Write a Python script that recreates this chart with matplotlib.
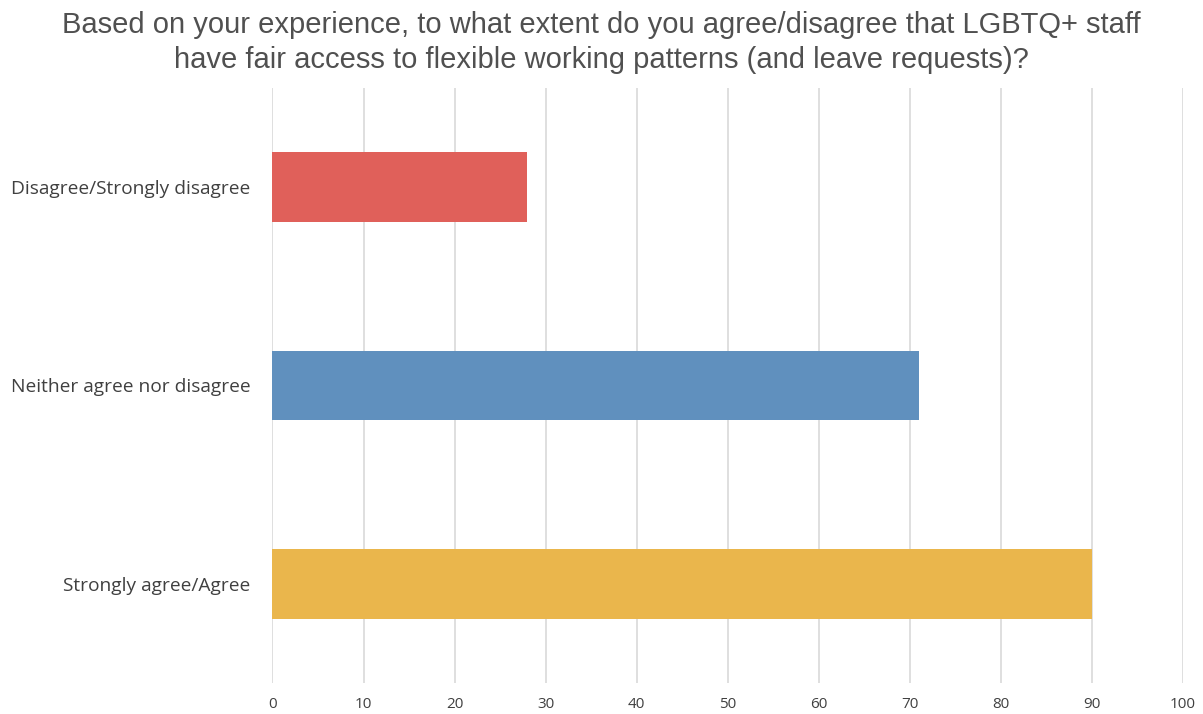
import matplotlib
matplotlib.use("Agg")
import matplotlib.pyplot as plt

# ── Data ──────────────────────────────────────────────────────────────────────
categories = ["Disagree/Strongly disagree", "Neither agree nor disagree", "Strongly agree/Agree"]
values     = [28, 71, 90]
colors     = ["#E0605A", "#6090BE", "#EAB64C"]
x_ticks    = list(range(0, 101, 10))

TITLE = ("Based on your experience, to what extent do you agree/disagree that LGBTQ+ staff\n"
         "have fair access to flexible working patterns (and leave requests)?")

fig = plt.figure(figsize=(12.03, 7.14), dpi=100)
ax = fig.add_axes([0.2265, 0.0434, 0.7569, 0.8334])

y = list(range(len(categories)))
ax.barh(y, values, height=0.35, color=colors, zorder=3)

ax.set_xlim(0, 100)
ax.set_ylim(2.5, -0.5)
ax.set_xticks(x_ticks)
ax.set_yticks(y)
ax.set_yticklabels(categories, fontsize=13.8, color="#404040", family="Open Sans")
ax.set_xticklabels([str(t) for t in x_ticks], fontsize=11, color="#404040", family="Open Sans")
ax.tick_params(axis="both", length=0)
ax.tick_params(axis="y", pad=16)
ax.tick_params(axis="x", pad=10)

ax.grid(axis="x", color="#D9D9D9", linewidth=1.2, zorder=0)
for side in ax.spines:
    ax.spines[side].set_visible(False)

fig.text(0.5, 0.984, TITLE, ha="center", va="top", fontsize=21,
         color="#505050", family="Liberation Sans", linespacing=1.3)

fig.savefig("out.png", dpi=100, facecolor="white")
